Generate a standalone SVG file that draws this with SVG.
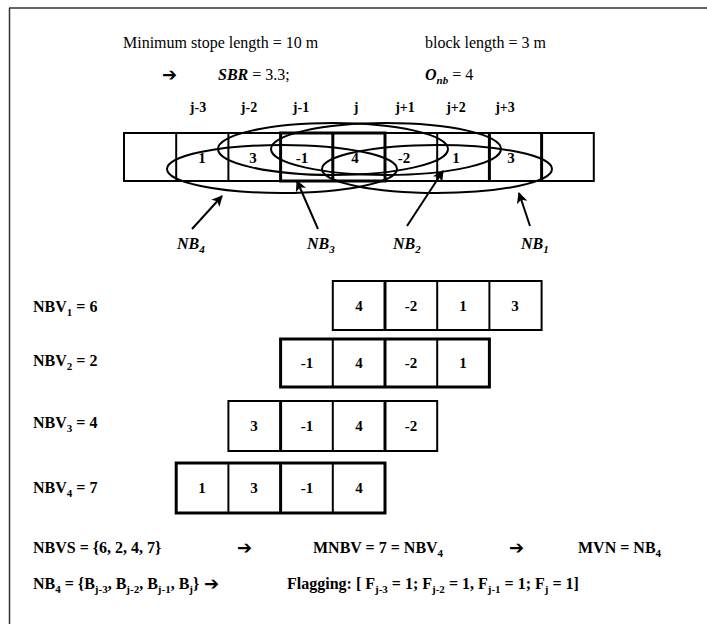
<svg xmlns="http://www.w3.org/2000/svg" width="707" height="624" viewBox="0 0 707 624">
<style>
.t{font-family:"Liberation Serif","Times New Roman",serif;font-size:16px;fill:#000}
.b{font-weight:bold}
.bi{font-weight:bold;font-style:italic}
.sub{font-size:11px}
.lbl{font-family:"Liberation Serif","Times New Roman",serif;font-size:14px;font-weight:bold;text-anchor:middle}
.num{font-family:"Liberation Serif","Times New Roman",serif;font-size:15px;font-weight:bold;text-anchor:middle}
.arr{font-family:"DejaVu Sans",sans-serif;font-size:18px}
.cell{fill:none;stroke:#000;stroke-width:2}
.thick{fill:none;stroke:#000;stroke-width:3}
.ell{fill:none;stroke:#000;stroke-width:2}
.conn{stroke:#000;stroke-width:2;fill:none}
</style>
<defs>
<marker id="ah" viewBox="0 0 10 10" refX="9" refY="5" markerWidth="13" markerHeight="11" markerUnits="userSpaceOnUse" orient="auto"><path d="M0,0 L10,5 L0,10 L2.5,5 z" fill="#000"/></marker>
</defs>
<rect width="707" height="624" fill="#fff"/>
<g id="frame">
<line x1="9" y1="8" x2="707" y2="8" stroke="#333" stroke-width="1.5"/>
<line x1="9.5" y1="8" x2="9.5" y2="624" stroke="#333" stroke-width="1.5"/>
</g>
<g id="header">
<text class="t" x="123" y="48">Minimum  stope length = 10 m</text>
<text class="t" x="425" y="48">block length = 3 m</text>
<text class="arr" x="162" y="81">➔</text>
<text class="t" x="218" y="80"><tspan class="bi">SBR</tspan> = 3.3;</text>
<text class="t" x="425" y="80"><tspan class="bi">O</tspan><tspan class="bi sub" dy="4">nb</tspan><tspan dy="-4"> = 4</tspan></text>
</g>
<g id="column-labels">
<text class="lbl" x="198" y="112">j-3</text>
<text class="lbl" x="249" y="112">j-2</text>
<text class="lbl" x="301" y="112">j-1</text>
<text class="lbl" x="356" y="112">j</text>
<text class="lbl" x="405" y="112">j+1</text>
<text class="lbl" x="456" y="112">j+2</text>
<text class="lbl" x="505" y="112">j+3</text>
</g>
<g id="block-row">
<rect class="cell" x="124" y="133" width="469.8" height="48"/>
<line class="cell" x1="176.2" y1="133" x2="176.2" y2="181"/>
<line class="cell" x1="228.4" y1="133" x2="228.4" y2="181"/>
<line class="cell" x1="437.2" y1="133" x2="437.2" y2="181"/>
<line class="thick" x1="489.4" y1="133" x2="489.4" y2="181"/>
<line class="thick" x1="541.6" y1="133" x2="541.6" y2="181"/>
<rect class="thick" x="280.6" y="133" width="104.4" height="48"/>
<line class="thick" x1="332.8" y1="133" x2="332.8" y2="181"/>
<text class="num" x="202" y="163">1</text>
<text class="num" x="253" y="163">3</text>
<text class="num" x="302" y="163">-1</text>
<text class="num" x="355" y="163">4</text>
<text class="num" x="404" y="163">-2</text>
<text class="num" x="456" y="163">1</text>
<text class="num" x="511" y="163">3</text>
</g>
<g id="neighbourhoods">
<ellipse class="ell" cx="282" cy="169" rx="115" ry="24"/>
<ellipse class="ell" cx="333" cy="149" rx="115" ry="26"/>
<ellipse class="ell" cx="386" cy="149" rx="115" ry="26"/>
<ellipse class="ell" cx="437" cy="169" rx="115" ry="24"/>
</g>
<g id="connectors">
<line class="conn" x1="192" y1="229" x2="222" y2="196" marker-end="url(#ah)"/>
<line class="conn" x1="318" y1="229" x2="297" y2="181" marker-end="url(#ah)"/>
<line class="conn" x1="407" y1="226" x2="443" y2="171" marker-end="url(#ah)"/>
<line class="conn" x1="530" y1="226" x2="519" y2="193" marker-end="url(#ah)"/>
</g>
<g id="nb-labels">
<text class="t bi" x="177" y="249">NB<tspan class="sub" dy="4">4</tspan></text>
<text class="t bi" x="307" y="249">NB<tspan class="sub" dy="4">3</tspan></text>
<text class="t bi" x="393" y="249">NB<tspan class="sub" dy="4">2</tspan></text>
<text class="t bi" x="521" y="249">NB<tspan class="sub" dy="4">1</tspan></text>
</g>
<g id="nbv1">
<text class="t b" x="33" y="312">NBV<tspan class="sub" dy="4">1</tspan><tspan dy="-4"> = 6</tspan></text>
<rect class="cell" x="332.8" y="281" width="208.8" height="49"/>
<line class="thick" x1="385" y1="281" x2="385" y2="330"/>
<line class="cell" x1="437.2" y1="281" x2="437.2" y2="330"/>
<line class="cell" x1="489.4" y1="281" x2="489.4" y2="330"/>
<text class="num" x="359" y="311">4</text>
<text class="num" x="411" y="311">-2</text>
<text class="num" x="463" y="311">1</text>
<text class="num" x="515" y="311">3</text>
</g>
<g id="nbv2">
<text class="t b" x="33" y="366">NBV<tspan class="sub" dy="4">2</tspan><tspan dy="-4"> = 2</tspan></text>
<rect class="thick" x="280.6" y="339" width="208.8" height="48"/>
<line class="cell" x1="332.8" y1="339" x2="332.8" y2="387"/>
<line class="thick" x1="385" y1="339" x2="385" y2="387"/>
<line class="cell" x1="437.2" y1="339" x2="437.2" y2="387"/>
<text class="num" x="307" y="368">-1</text>
<text class="num" x="359" y="368">4</text>
<text class="num" x="411" y="368">-2</text>
<text class="num" x="463" y="368">1</text>
</g>
<g id="nbv3">
<text class="t b" x="33" y="428">NBV<tspan class="sub" dy="4">3</tspan><tspan dy="-4"> = 4</tspan></text>
<rect class="cell" x="228.4" y="401" width="208.8" height="50"/>
<line class="thick" x1="280.6" y1="401" x2="280.6" y2="451"/>
<line class="cell" x1="332.8" y1="401" x2="332.8" y2="451"/>
<line class="thick" x1="385" y1="401" x2="385" y2="451"/>
<text class="num" x="254" y="431">3</text>
<text class="num" x="307" y="431">-1</text>
<text class="num" x="359" y="431">4</text>
<text class="num" x="411" y="431">-2</text>
</g>
<g id="nbv4">
<text class="t b" x="33" y="493">NBV<tspan class="sub" dy="4">4</tspan><tspan dy="-4"> = 7</tspan></text>
<rect class="thick" x="176.2" y="463" width="208.8" height="50"/>
<line class="cell" x1="228.4" y1="463" x2="228.4" y2="513"/>
<line class="thick" x1="280.6" y1="463" x2="280.6" y2="513"/>
<line class="cell" x1="332.8" y1="463" x2="332.8" y2="513"/>
<text class="num" x="202" y="493">1</text>
<text class="num" x="254" y="493">3</text>
<text class="num" x="307" y="493">-1</text>
<text class="num" x="359" y="493">4</text>
</g>
<g id="summary">
<text class="t b" x="33" y="553">NBVS = {6, 2, 4, 7}</text>
<text class="arr" x="237" y="554">➔</text>
<text class="t b" x="313" y="553">MNBV = 7 = NBV<tspan class="sub" dy="4">4</tspan></text>
<text class="arr" x="509" y="554">➔</text>
<text class="t b" x="578" y="553">MVN = NB<tspan class="sub" dy="4">4</tspan></text>
<text class="t b" x="33" y="589">NB<tspan class="sub" dy="4">4</tspan><tspan dy="-4"> = {B</tspan><tspan class="sub" dy="4">j-3</tspan><tspan dy="-4">, B</tspan><tspan class="sub" dy="4">j-2</tspan><tspan dy="-4">, B</tspan><tspan class="sub" dy="4">j-1</tspan><tspan dy="-4">, B</tspan><tspan class="sub" dy="4">j</tspan><tspan dy="-4">}</tspan></text>
<text class="arr" x="204" y="590">➔</text>
<text class="t b" x="287" y="589">Flagging: [ F<tspan class="sub" dy="4">j-3</tspan><tspan dy="-4"> = 1; F</tspan><tspan class="sub" dy="4">j-2</tspan><tspan dy="-4"> = 1, F</tspan><tspan class="sub" dy="4">j-1</tspan><tspan dy="-4"> = 1; F</tspan><tspan class="sub" dy="4">j</tspan><tspan dy="-4"> = 1]</tspan></text>
</g>
</svg>
